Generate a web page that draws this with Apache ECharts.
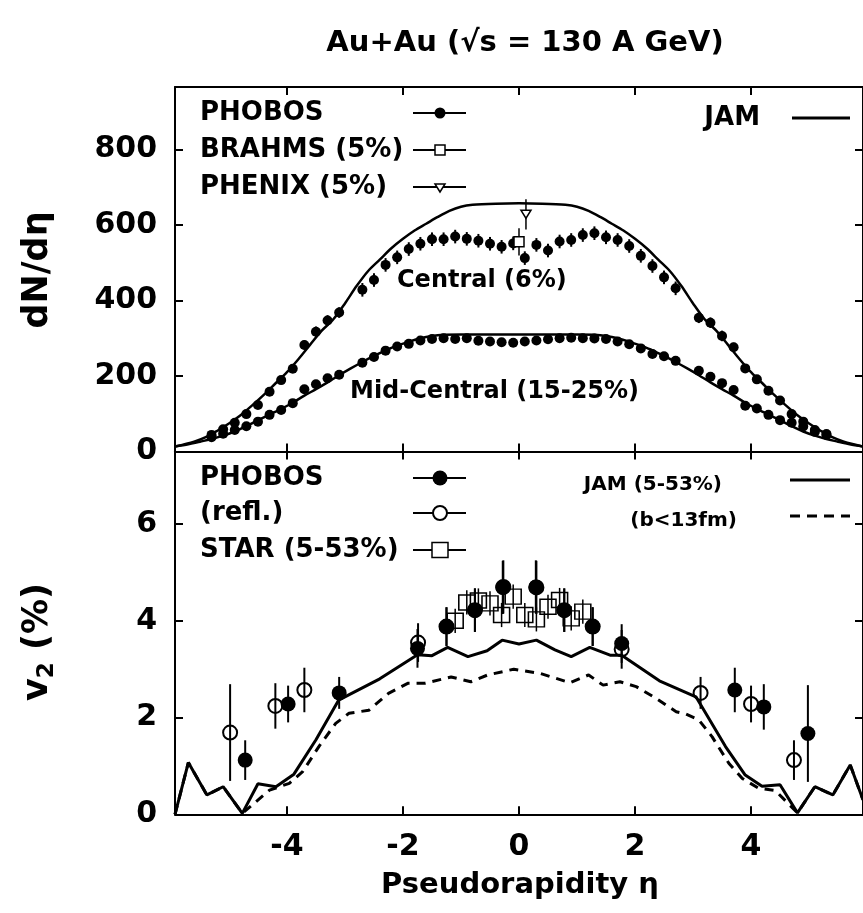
<!DOCTYPE html>
<html>
<head>
<meta charset="utf-8">
<script src="https://cdn.jsdelivr.net/npm/echarts@6/dist/echarts.min.js"></script>
<style>
html, body { margin: 0; padding: 0; background: #ffffff; }
#chart { width: 863px; height: 913px; }
</style>
</head>
<body>
<div id="chart"></div>
<script>
// ---- dN/deta, PHOBOS (same eta bins for both centralities) ----
const etaPhobos = [-5.3, -5.1, -4.9, -4.7, -4.5, -4.3, -4.1, -3.9, -3.7, -3.5, -3.3, -3.1,
  -2.7, -2.5, -2.3, -2.1, -1.9, -1.7, -1.5, -1.3, -1.1, -0.9, -0.7, -0.5, -0.3, -0.1,
  0.1, 0.3, 0.5, 0.7, 0.9, 1.1, 1.3, 1.5, 1.7, 1.9, 2.1, 2.3, 2.5, 2.7,
  3.1, 3.3, 3.5, 3.7, 3.9, 4.1, 4.3, 4.5, 4.7, 4.9, 5.1, 5.3];
const dndetaCentral = [44, 59, 76, 99, 123, 158, 189, 219, 282, 317, 347, 368,
  428, 454, 494, 514, 536, 550, 562, 562, 569, 563, 558, 550, 542, 551,
  512, 547, 532, 556, 560, 573, 578, 567, 560, 544, 518, 491, 461, 432,
  354, 341, 306, 276, 220, 191, 161, 135, 99, 79, 57, 44];
const errCentral = [6, 6, 6, 8, 8, 8, 8, 10, 12, 14, 14, 14,
  18, 18, 18, 18, 18, 18, 18, 18, 18, 18, 18, 18, 18, 18,
  18, 18, 18, 18, 18, 18, 18, 18, 18, 18, 18, 18, 18, 18,
  14, 14, 14, 12, 10, 8, 8, 8, 8, 6, 6, 6];
const dndetaMidCentral = [38, 47, 57, 67, 79, 97, 110, 128, 165, 178, 194, 203,
  235, 250, 267, 278, 285, 294, 298, 300, 298, 300, 293, 291, 289, 288,
  291, 294, 297, 300, 301, 300, 299, 298, 291, 284, 273, 258, 252, 240,
  214, 198, 181, 163, 121, 114, 97, 83, 76, 66, 52, 46];

const etaBrahms = [0.0];
const dndetaBrahms = [555];
const errBrahms = [36];
const etaPhenix = [0.12];
const dndetaPhenix = [628];
const errPhenix = [40];

// ---- JAM dN/deta ----
const etaJamCentral = [-5.93, -5.6, -5.4, -5.2, -5.0, -4.8, -4.6, -4.4, -4.2, -4.0, -3.8, -3.6, -3.4, -3.2, -3.0,
  -2.8, -2.6, -2.4, -2.2, -2.0, -1.8, -1.6, -1.4, -1.2, -1.0, -0.8, -0.4, 0,
  0.4, 0.8, 1.0, 1.2, 1.4, 1.6, 1.8, 2.0, 2.2, 2.4, 2.6, 2.8,
  3.0, 3.2, 3.4, 3.6, 3.8, 4.0, 4.2, 4.4, 4.6, 4.8, 5.0, 5.2, 5.4, 5.6, 5.93];
const dndetaJamCentral = [13, 26, 38, 55, 74, 96, 122, 150, 180, 210, 245, 283, 320, 350, 392,
  438, 478, 508, 538, 563, 585, 603, 621, 637, 648, 653, 656, 657,
  656, 653, 648, 637, 621, 603, 585, 563, 538, 508, 478, 438,
  392, 350, 320, 283, 245, 210, 180, 150, 122, 96, 74, 55, 38, 26, 13];
const etaJamMid = [-5.93, -5.7, -5.5, -5.3, -5.1, -4.9, -4.7, -4.5, -4.3, -4.1, -3.9, -3.7, -3.5, -3.3, -3.1,
  -2.9, -2.7, -2.5, -2.3, -2.1, -1.9, -1.7, -1.5, -1.3, -1.0, -0.5, 0,
  0.5, 1.0, 1.3, 1.5, 1.7, 1.9, 2.1, 2.3, 2.5, 2.7, 2.9,
  3.1, 3.3, 3.5, 3.7, 3.9, 4.1, 4.3, 4.5, 4.7, 4.9, 5.1, 5.3, 5.5, 5.7, 5.93];
const dndetaJamMid = [13, 19, 26, 33, 42, 53, 67, 83, 98, 113, 129, 148, 165, 183, 202,
  220, 237, 253, 268, 280, 291, 300, 306, 309, 310, 310, 310,
  310, 310, 309, 306, 300, 291, 280, 268, 253, 237, 220,
  202, 183, 165, 148, 129, 113, 98, 83, 67, 53, 42, 33, 26, 19, 13];

// ---- v2, PHOBOS and its reflection ----
const etaV2Phobos = [-4.72, -3.98, -3.10, -1.75, -1.25, -0.76, -0.28, 0.29, 0.78, 1.27, 1.77, 3.72, 4.22, 4.98];
const v2Phobos = [1.12, 2.28, 2.51, 3.43, 3.88, 4.22, 4.69, 4.70, 4.22, 3.88, 3.53, 2.57, 2.22, 1.67];
const errV2Phobos = [0.41, 0.38, 0.33, 0.40, 0.40, 0.45, 0.55, 0.55, 0.45, 0.40, 0.40, 0.46, 0.47, 1.00];
const etaV2Refl = [4.74, 4.00, 3.13, 1.77, 1.27, 0.78, 0.30, -0.27, -0.76, -1.25, -1.74, -3.70, -4.20, -4.98];
const v2Refl = [1.12, 2.28, 2.51, 3.41, 3.88, 4.22, 4.69, 4.70, 4.22, 3.88, 3.55, 2.57, 2.24, 1.69];
const errV2Refl = [0.41, 0.38, 0.33, 0.40, 0.40, 0.45, 0.55, 0.55, 0.45, 0.40, 0.40, 0.46, 0.47, 1.00];

// ---- v2, STAR ----
const etaV2Star = [-1.1, -0.9, -0.7, -0.5, -0.3, -0.1, 0.1, 0.3, 0.5, 0.7, 0.9, 1.1];
const v2Star = [4.00, 4.38, 4.42, 4.36, 4.12, 4.50, 4.12, 4.03, 4.29, 4.43, 4.05, 4.19];
const errV2Star = [0.25, 0.25, 0.25, 0.25, 0.25, 0.25, 0.25, 0.25, 0.25, 0.25, 0.25, 0.25];

// ---- JAM v2 ----
const etaJamV2 = [-5.93, -5.70, -5.38, -5.10, -4.77, -4.50, -4.19, -3.88, -3.50, -3.11, -2.40, -1.75, -1.50, -1.23,
  -0.88, -0.55, -0.29, 0.0, 0.30, 0.62, 0.90, 1.22, 1.57, 1.77, 2.42, 3.05, 3.56, 3.90, 4.19, 4.50, 4.80, 5.10, 5.41, 5.71, 5.93];
const v2Jam = [0.0, 1.07, 0.40, 0.57, 0.02, 0.63, 0.57, 0.83, 1.54, 2.36, 2.80, 3.30, 3.28, 3.45,
  3.26, 3.38, 3.60, 3.52, 3.60, 3.40, 3.26, 3.45, 3.29, 3.29, 2.76, 2.43, 1.40, 0.81, 0.58, 0.61, 0.03, 0.57, 0.40, 1.02, 0.30];
const etaJamV2b = [-5.93, -5.70, -5.38, -5.10, -4.77, -4.30, -3.96, -3.73, -3.45, -3.16, -2.93, -2.59, -2.25, -1.91, -1.62,
  -1.17, -0.83, -0.54, -0.09, 0.37, 0.88, 1.20, 1.45, 1.74, 2.02, 2.36, 2.71, 2.88, 3.10, 3.33, 3.62, 3.85, 4.13, 4.42,
  4.80, 5.10, 5.41, 5.71, 5.93];
const v2JamB = [0.0, 1.07, 0.40, 0.57, 0.02, 0.50, 0.64, 0.88, 1.40, 1.88, 2.09, 2.15, 2.50, 2.71, 2.71,
  2.84, 2.74, 2.88, 3.00, 2.91, 2.72, 2.88, 2.67, 2.74, 2.64, 2.40, 2.12, 2.07, 1.95, 1.60, 1.05, 0.74, 0.54, 0.49,
  0.03, 0.57, 0.40, 1.02, 0.30];

// ---- axis ticks ----
const etaTicks = [-4, -2, 0, 2, 4];
const dndetaTicks = [0, 200, 400, 600, 800];
const v2Ticks = [0, 2, 4, 6];

const FONT = 'DejaVu Sans';
const INK = '#000000';

const pairs = (xs, ys) => xs.map((x, i) => [x, ys[i]]);

function errorBars(xAxisIndex, yAxisIndex, xs, ys, errs, width) {
  return {
    type: 'custom',
    xAxisIndex, yAxisIndex,
    silent: true,
    z: 3,
    data: xs.map((x, i) => [x, ys[i] - errs[i], ys[i] + errs[i]]),
    encode: { x: 0, y: [1, 2] },
    renderItem(params, api) {
      const lo = api.coord([api.value(0), api.value(1)]);
      const hi = api.coord([api.value(0), api.value(2)]);
      return {
        type: 'line',
        shape: { x1: lo[0], y1: lo[1], x2: hi[0], y2: hi[1] },
        style: { stroke: INK, lineWidth: width }
      };
    }
  };
}

function etaAxis(gridIndex, position, showLabels) {
  return {
    type: 'value', gridIndex, position,
    min: -5.93, max: 5.93,
    axisLine: { show: true, onZero: false, lineStyle: { color: INK, width: 2 } },
    axisTick: { show: true, inside: true, length: 8, customValues: etaTicks, lineStyle: { color: INK, width: 2 } },
    axisLabel: {
      show: showLabels, customValues: etaTicks, margin: 18,
      color: INK, fontFamily: FONT, fontWeight: 'bold', fontSize: 30
    },
    splitLine: { show: false }
  };
}

function valueAxis(gridIndex, position, max, ticks, showLabels) {
  return {
    type: 'value', gridIndex, position,
    min: 0, max,
    axisLine: { show: true, onZero: false, lineStyle: { color: INK, width: 2 } },
    axisTick: { show: true, inside: true, length: 8, customValues: ticks, lineStyle: { color: INK, width: 2 } },
    axisLabel: {
      show: showLabels, customValues: ticks, margin: 18,
      color: INK, fontFamily: FONT, fontWeight: 'bold', fontSize: 30
    },
    splitLine: { show: false }
  };
}

const txt = (x, y, text, size, align) => ({
  type: 'text', x, y, z: 10,
  style: { text, fill: INK, font: `bold ${size}px "${FONT}"`, align: align || 'left', verticalAlign: 'middle' }
});
const seg = (x1, y1, x2, y2, w, dash) => ({
  type: 'line', z: 10,
  shape: { x1, y1, x2, y2 },
  style: { stroke: INK, lineWidth: w, lineDash: dash || null }
});

const chart = echarts.init(document.getElementById('chart'), null, { renderer: 'canvas' });

chart.setOption({
  backgroundColor: '#ffffff',
  animation: false,
  title: {
    text: 'Au+Au (√s = 130 A GeV)',
    left: 520, top: 24, textAlign: 'center',
    textStyle: { color: INK, fontFamily: FONT, fontWeight: 'bold', fontSize: 29 }
  },
  grid: [
    { left: 175, right: -5, top: 87, height: 364.5 },
    { left: 175, right: -5, top: 451.5, height: 362.8 }
  ],
  xAxis: [
    etaAxis(0, 'bottom', false),
    etaAxis(0, 'top', false),
    etaAxis(1, 'bottom', true),
    etaAxis(1, 'top', false)
  ],
  yAxis: [
    valueAxis(0, 'left', 965, dndetaTicks, true),
    valueAxis(0, 'right', 965, dndetaTicks, false),
    valueAxis(1, 'left', 7.5, v2Ticks, true),
    valueAxis(1, 'right', 7.5, v2Ticks, false)
  ],
  series: [
    // dN/deta panel
    {
      type: 'line', xAxisIndex: 0, yAxisIndex: 0, data: pairs(etaJamCentral, dndetaJamCentral),
      smooth: 0.3, showSymbol: false, lineStyle: { color: INK, width: 2.5 }, z: 2
    },
    {
      type: 'line', xAxisIndex: 0, yAxisIndex: 0, data: pairs(etaJamMid, dndetaJamMid),
      smooth: 0.3, showSymbol: false, lineStyle: { color: INK, width: 2.5 }, z: 2
    },
    errorBars(0, 0, etaPhobos, dndetaCentral, errCentral, 2),
    errorBars(0, 0, etaBrahms, dndetaBrahms, errBrahms, 1.5),
    errorBars(0, 0, etaPhenix, dndetaPhenix, errPhenix, 1.5),
    {
      type: 'scatter', xAxisIndex: 0, yAxisIndex: 0, data: pairs(etaPhobos, dndetaCentral),
      symbol: 'circle', symbolSize: 10, itemStyle: { color: INK, opacity: 1 }, z: 4
    },
    {
      type: 'scatter', xAxisIndex: 0, yAxisIndex: 0, data: pairs(etaPhobos, dndetaMidCentral),
      symbol: 'circle', symbolSize: 10, itemStyle: { color: INK, opacity: 1 }, z: 4
    },
    {
      type: 'scatter', xAxisIndex: 0, yAxisIndex: 0, data: pairs(etaBrahms, dndetaBrahms),
      symbol: 'rect', symbolSize: 10, itemStyle: { color: '#ffffff', borderColor: INK, borderWidth: 1.5, opacity: 1 }, z: 5
    },
    {
      type: 'scatter', xAxisIndex: 0, yAxisIndex: 0, data: pairs(etaPhenix, dndetaPhenix),
      symbol: 'path://M0,0 L10,0 L5,8 Z', symbolSize: [10, 8],
      itemStyle: { color: '#ffffff', borderColor: INK, borderWidth: 1.5, opacity: 1 }, z: 5
    },
    // v2 panel
    {
      type: 'line', xAxisIndex: 2, yAxisIndex: 2, data: pairs(etaJamV2b, v2JamB),
      showSymbol: false, lineStyle: { color: INK, width: 3, type: [9, 7] }, z: 2
    },
    {
      type: 'line', xAxisIndex: 2, yAxisIndex: 2, data: pairs(etaJamV2, v2Jam),
      showSymbol: false, lineStyle: { color: INK, width: 3 }, z: 2
    },
    errorBars(2, 2, etaV2Star, v2Star, errV2Star, 1.5),
    errorBars(2, 2, etaV2Refl, v2Refl, errV2Refl, 2),
    errorBars(2, 2, etaV2Phobos, v2Phobos, errV2Phobos, 2),
    {
      type: 'scatter', xAxisIndex: 2, yAxisIndex: 2, data: pairs(etaV2Star, v2Star),
      symbol: 'rect', symbolSize: [16, 15],
      itemStyle: { color: 'transparent', borderColor: INK, borderWidth: 1.5, opacity: 1 }, z: 4
    },
    {
      type: 'scatter', xAxisIndex: 2, yAxisIndex: 2, data: pairs(etaV2Phobos, v2Phobos),
      symbol: 'circle', symbolSize: 15, itemStyle: { color: INK, opacity: 1 }, z: 5
    },
    {
      type: 'scatter', xAxisIndex: 2, yAxisIndex: 2, data: pairs(etaV2Refl, v2Refl),
      symbol: 'circle', symbolSize: 14,
      itemStyle: { color: 'transparent', borderColor: INK, borderWidth: 2, opacity: 1 }, z: 6
    }
  ],
  graphic: [
    // axis titles
    {
      type: 'text', x: 38, y: 270, rotation: Math.PI / 2, z: 10,
      style: { text: 'dN/dη', fill: INK, font: `bold 35px "${FONT}"`, align: 'center', verticalAlign: 'middle' }
    },
    {
      type: 'text', x: 38, y: 642, rotation: Math.PI / 2, z: 10,
      style: {
        text: '{a|v}{b|2}{a| (%)}', align: 'center', verticalAlign: 'middle',
        rich: {
          a: { fill: INK, fontFamily: FONT, fontWeight: 'bold', fontSize: 35, lineHeight: 42, verticalAlign: 'middle' },
          b: { fill: INK, fontFamily: FONT, fontWeight: 'bold', fontSize: 23, lineHeight: 32, verticalAlign: 'bottom' }
        }
      }
    },
    txt(520, 885, 'Pseudorapidity η', 29, 'center'),

    // dN/deta legend
    txt(200, 113, 'PHOBOS', 26),
    seg(413, 113, 466, 113, 2),
    { type: 'circle', z: 11, shape: { cx: 440, cy: 113, r: 5.5 }, style: { fill: INK } },
    txt(200, 150, 'BRAHMS (5%)', 26),
    seg(413, 150, 466, 150, 2),
    { type: 'rect', z: 11, shape: { x: 435, y: 145, width: 10, height: 10 }, style: { fill: '#ffffff', stroke: INK, lineWidth: 1.5 } },
    txt(200, 187, 'PHENIX (5%)', 26),
    seg(413, 187, 466, 187, 2),
    { type: 'polygon', z: 11, shape: { points: [[435, 184], [445, 184], [440, 192]] }, style: { fill: '#ffffff', stroke: INK, lineWidth: 1.5 } },
    txt(760, 118, 'JAM', 26, 'right'),
    seg(792, 118, 850, 118, 3),
    txt(397, 281, 'Central (6%)', 24),
    txt(350, 392, 'Mid-Central (15-25%)', 24),

    // v2 legend
    txt(200, 478, 'PHOBOS', 26),
    seg(413, 478, 466, 478, 2),
    { type: 'circle', z: 11, shape: { cx: 440, cy: 478, r: 7.5 }, style: { fill: INK } },
    txt(200, 513, '(refl.)', 26),
    seg(413, 513, 466, 513, 2),
    { type: 'circle', z: 11, shape: { cx: 440, cy: 513, r: 7 }, style: { fill: '#ffffff', stroke: INK, lineWidth: 2 } },
    txt(200, 550, 'STAR (5-53%)', 26),
    seg(413, 550, 466, 550, 2),
    { type: 'rect', z: 11, shape: { x: 432, y: 542.5, width: 16, height: 15 }, style: { fill: '#ffffff', stroke: INK, lineWidth: 1.5 } },
    txt(722, 485, 'JAM (5-53%)', 20, 'right'),
    seg(790, 480, 850, 480, 3),
    txt(737, 521, '(b<13fm)', 20, 'right'),
    seg(790, 516, 850, 516, 3, [10, 7])
  ]
});
</script>
</body>
</html>
